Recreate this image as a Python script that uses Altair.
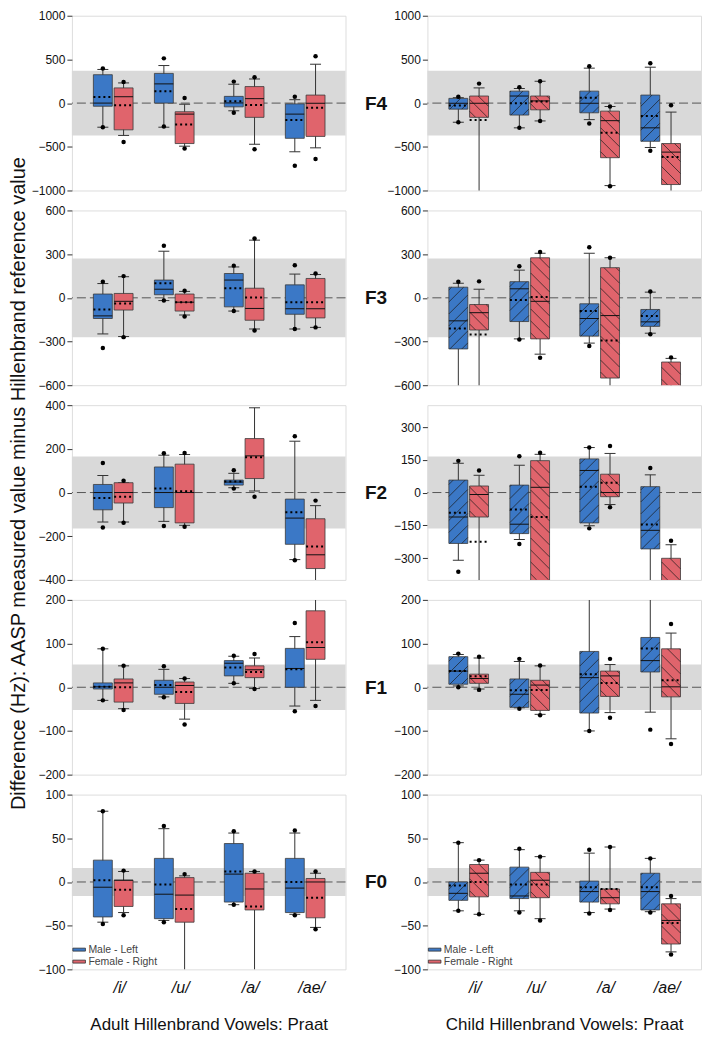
import altair as alt
import pandas as pd

VOWELS = ["/i/", "/u/", "/a/", "/ae/"]
VOWEL_POS = [1.0, 2.0, 3.146, 4.146]
SEXES = ["Male - Left", "Female - Right"]
COLORS = ["#3b78c6", "#e0646c"]

# each row: whisker_lo, q1, median, q3, whisker_hi, mean, p5_dot, p95_dot
# order: /i/ M, /i/ F, /u/ M, /u/ F, /a/ M, /a/ F, /ae/ M, /ae/ F
ADULT_F4 = [
    [-276, -36, 0, 325, 385, 69, -276, 396],
    [-370, -306, 73, 174, 231, -24, -445, 242],
    [-276, 0, 220, 340, 430, 137, -268, 512],
    [-493, -463, -126, -99, -13, -246, -520, 58],
    [-88, -43, 2, 77, 216, 21, -111, 246],
    [-471, -163, 51, 189, 276, -21, -527, 295],
    [-557, -403, -126, -9, 39, -193, -718, 73],
    [-512, -381, -2, 92, 445, -54, -640, 535],
]
CHILD_F4 = [
    [-219, -69, -2, 54, 62, -28, -219, 73],
    [-1100, -163, -2, 81, 174, -193, None, 223],
    [-283, -137, 81, 137, 167, -2, -283, 182],
    [-204, -77, 25, 81, 250, 17, -204, 250],
    [-189, -111, -2, 137, 400, 62, -234, 422],
    [-944, -625, -201, -92, -39, -340, -951, -39],
    [-508, -437, -283, 92, 411, -148, -546, 456],
    [-1100, -932, -561, -463, -103, -617, None, -24],
]
ADULT_F3 = [
    [-248, -142, -124, 26, 98, -80, -344, 111],
    [-266, -84, -24, 30, 145, -39, -270, 149],
    [-19, 21, 59, 122, 320, 100, -19, 358],
    [-118, -91, -30, 26, 44, -30, -129, 48],
    [-91, -62, 122, 167, 212, 66, -91, 221],
    [-214, -154, -73, 66, 396, 3, -225, 407],
    [-214, -113, -75, 89, 163, -30, -214, 224],
    [-203, -138, -75, 133, 160, -30, -203, 167],
]
CHILD_F3 = [
    [-700, -351, -158, 73, 100, -210, None, 111],
    [-700, -221, -102, -46, 59, -252, None, 113],
    [-282, -163, 62, 111, 190, -15, -286, 217],
    [-387, -282, -24, 275, 306, 6, -411, 315],
    [-311, -263, -142, -41, 306, -91, -331, 347],
    [-700, -551, -122, 207, 275, -293, None, 275],
    [-243, -196, -165, -80, 39, -124, -250, 44],
    [-700, -700, -640, -441, -416, -660, None, -409],
]
ADULT_F2 = [
    [-135, -79, 0, 37, 78, -25, -160, 135],
    [-135, -48, 0, 45, 45, -19, -138, 54],
    [-132, -69, 0, 117, 171, 18, -153, 180],
    [-150, -139, 0, 130, 174, 6, -157, 181],
    [22, 34, 48, 57, 88, 51, 18, 102],
    [7, 64, 168, 247, 388, 162, -19, None],
    [-307, -237, -117, -30, 235, -90, -310, 258],
    [-450, -348, -285, -120, -60, -247, None, -37],
]
CHILD_F2 = [
    [-310, -233, -112, 57, 134, -93, -363, 145],
    [-450, -112, -9, 30, 79, -225, None, 101],
    [-215, -188, -145, 34, 125, -78, -236, 166],
    [-450, -450, 24, 146, 175, -112, None, 182],
    [-152, -139, 101, 154, 206, 27, -164, 206],
    [-55, -19, 0, 84, 179, 45, -67, 213],
    [-450, -258, -173, 27, 81, -146, None, 112],
    [-450, -450, -430, -301, -239, -440, None, -221],
]
ADULT_F1 = [
    [-30, -4, 1, 10, 88, 1, -30, 88],
    [-49, -34, 10, 19, 49, 0, -52, 49],
    [-22, -16, 0, 16, 41, 5, -23, 48],
    [-73, -37, 4, 12, 20, -11, -85, 20],
    [9, 26, 55, 61, 71, 45, 9, 72],
    [-3, 22, 40, 49, 67, 35, -4, 76],
    [-43, 0, 43, 89, 116, 41, -55, 147],
    [-30, 64, 91, 175, 230, 103, -43, None],
]
CHILD_F1 = [
    [3, 7, 37, 70, 75, 37, 0, 77],
    [-4, 9, 20, 30, 67, 25, -6, 70],
    [-47, -46, -16, 19, 59, -7, -49, 65],
    [-62, -53, 5, 16, 49, -6, -64, 50],
    [-100, -59, 22, 82, 230, 30, -100, None],
    [-58, -21, 26, 37, 52, 10, -70, 65],
    [-57, 35, 61, 114, 230, 89, -97, None],
    [-118, -22, 1, 88, 124, 16, -130, 145],
]
ADULT_F0 = [
    [-46, -40, -6, 25, 81, 2, -48, 81],
    [-35, -28, 2, 2, 12, -9, -38, 13],
    [-44, -42, -14, 27, 61, -3, -46, 64],
    [-120, -46, -15, 5, 7, -31, None, 9],
    [-26, -23, 9, 44, 56, 12, -26, 58],
    [-120, -32, -8, 10, 12, -28, None, 12],
    [-37, -35, -7, 27, 56, 0, -38, 59],
    [-52, -41, 0, 4, 10, -18, -54, 12],
]
CHILD_F0 = [
    [-33, -21, -13, 0, 45, -4, -33, 45],
    [-37, -17, 10, 20, 25, 0, -37, 25],
    [-33, -19, -16, 17, 37, -3, -35, 38],
    [-42, -18, 2, 11, 29, -3, -44, 29],
    [-35, -23, -11, 1, 33, -6, -36, 37],
    [-31, -25, -18, -8, 40, -8, -32, 40],
    [-34, -32, -11, 10, 27, -6, -35, 27],
    [-80, -71, -44, -25, -19, -47, -83, -16],
]

ROW_LABELS = ["F4", "F3", "F2", "F1", "F0"]
Y_DOMAINS = [[-1000, 1000], [-600, 600], [-400, 400], [-200, 200], [-100, 100]]
ADULT_TICKS = [[-1000, -500, 0, 500, 1000], [-600, -300, 0, 300, 600],
               [-400, -200, 0, 200, 400], [-200, -100, 0, 100, 200], [-100, -50, 0, 50, 100]]
CHILD_TICKS = [[-1000, -500, 0, 500, 1000], [-600, -300, 0, 300, 600],
               [-300, -150, 0, 150, 300], [-200, -100, 0, 100, 200], [-100, -50, 0, 50, 100]]
BANDS = [370, 270, 165, 52, 16]

W = 274
H = 175
XDOM = [0.323, 4.807]
OFF = 0.17
BOXHALF = 0.155
CAPHALF = 0.09
FONT = "Liberation Sans"
YTITLE = "Difference (Hz):  AASP measured value minus Hillenbrand reference value"


def make_df(rows):
    recs = []
    for i, r in enumerate(rows):
        v, s = i // 2, i % 2
        pos = VOWEL_POS[v] + (-OFF if s == 0 else OFF)
        wlo, q1, med, q3, whi, mean, dlo, dhi = r
        recs.append(dict(vowel=VOWELS[v], sex=SEXES[s], pos=pos,
                         xl=pos - BOXHALF, xr=pos + BOXHALF,
                         cl=pos - CAPHALF, cr=pos + CAPHALF,
                         wlo=wlo, q1=q1, med=med, q3=q3, whi=whi, mean=mean,
                         dlo=float("nan") if dlo is None else dlo,
                         dhi=float("nan") if dhi is None else dhi))
    return pd.DataFrame(recs)


def make_hatch(df, ydom):
    kx = W / (XDOM[1] - XDOM[0])
    ky = H / (ydom[1] - ydom[0])
    s = 12.0
    segs = []
    for _, r in df.iterrows():
        lo = max(r.q1, ydom[0])
        hi = min(r.q3, ydom[1])
        if hi <= lo:
            continue
        w = (r.xr - r.xl) * kx
        h = (hi - lo) * ky
        male = r.sex == SEXES[0]
        if male:
            c = -w + s / 2
            while c < h:
                u1, u2 = max(0.0, -c), min(w, h - c)
                if u2 - u1 > 0.5:
                    segs.append((r.xl + u1 / kx, r.xl + u2 / kx,
                                 lo + (u1 + c) / ky, lo + (u2 + c) / ky))
                c += s
        else:
            c = s / 2
            while c < h + w:
                u1, u2 = max(0.0, c - h), min(w, c)
                if u2 - u1 > 0.5:
                    segs.append((r.xl + u1 / kx, r.xl + u2 / kx,
                                 lo + (c - u1) / ky, lo + (c - u2) / ky))
                c += s
    return pd.DataFrame(segs, columns=["hx1", "hx2", "hy1", "hy2"])


def panel(rows, ri, child):
    ydom = Y_DOMAINS[ri]
    ticks = CHILD_TICKS[ri] if child else ADULT_TICKS[ri]
    band = BANDS[ri]
    last = ri == 4
    df = make_df(rows)

    ysc = alt.Scale(domain=ydom, nice=False, zero=False)
    xsc = alt.Scale(domain=XDOM, nice=False, zero=False)

    axis_kw = dict(values=ticks, format="d", tickSize=5, tickColor="#333", labelFontSize=12,
                   labelColor="#111", labelPadding=2, domain=False, grid=False,
                   labelFont=FONT)
    if child:
        yaxis = alt.Axis(title=ROW_LABELS[ri], titleAngle=0, titleX=-52, titleY=H / 2,
                         titleAlign="center", titleBaseline="middle", titleFontSize=19,
                         titleFontWeight="bold", titleColor="#111", titleFont=FONT, **axis_kw)
    elif ri == 2:
        yaxis = alt.Axis(title=YTITLE, titleAngle=270, titleX=-47, titleY=78,
                         titleAlign="center", titleBaseline="alphabetic", titleFontSize=20,
                         titleFontWeight="normal", titleColor="#111", titleFont=FONT, **axis_kw)
    else:
        yaxis = alt.Axis(title=None, **axis_kw)

    if last:
        expr = " : ".join(
            f"datum.value < {p + 0.3} ? '{v}'" for p, v in zip(VOWEL_POS[:-1], VOWELS[:-1])
        ) + f" : '{VOWELS[-1]}'"
        xaxis = alt.Axis(values=VOWEL_POS, labelExpr=expr, ticks=False, domain=False,
                         grid=False, labelFontStyle="italic", labelFontSize=16,
                         labelColor="#111", labelPadding=10, labelOffset=6, labelFont=FONT,
                         title=("Child" if child else "Adult") + " Hillenbrand Vowels: Praat",
                         titleFontSize=17, titleFontWeight="normal", titleColor="#111",
                         titlePadding=21, titleFont=FONT)
    else:
        xaxis = None

    def X(f):
        return alt.X(f, type="quantitative", scale=xsc, axis=xaxis)

    def Y(f):
        return alt.Y(f, type="quantitative", scale=ysc, axis=yaxis)

    base = alt.Chart(df)
    band_l = alt.Chart(pd.DataFrame({"lo": [-band], "hi": [band]})).mark_rect(
        color="#d9d9d9").encode(y=Y("lo"), y2="hi", x=alt.value(0), x2=alt.value(W))
    zero_l = alt.Chart(pd.DataFrame({"z": [0]})).mark_rule(
        color="#555", strokeDash=[9, 4], strokeWidth=1).encode(y=Y("z"))
    whisk = base.mark_rule(color="#333", strokeWidth=1, clip=True).encode(
        x=X("pos"), y=Y("wlo"), y2="whi")
    cap_hi = base.mark_rule(color="#333", strokeWidth=1, clip=True).encode(
        x=X("cl"), x2="cr", y=Y("whi"))
    cap_lo = base.mark_rule(color="#333", strokeWidth=1, clip=True).encode(
        x=X("cl"), x2="cr", y=Y("wlo"))
    leg = None
    if last:
        leg = alt.Legend(orient="bottom-left", title=None, offset=2, padding=0,
                         symbolType="M-1.4,-0.33H1.4V0.33H-1.4Z", symbolSize=81,
                         symbolStrokeColor="#333", symbolStrokeWidth=0.8, symbolOpacity=1,
                         labelFontSize=10.5, labelColor="#444",
                         labelFont=FONT, rowPadding=1, labelOffset=4)
    box = base.mark_rect(stroke="#3a3a3a", strokeWidth=0.8, opacity=1, clip=True).encode(
        x=X("xl"), x2="xr", y=Y("q1"), y2="q3",
        fill=alt.Fill("sex:N", scale=alt.Scale(domain=SEXES, range=COLORS), legend=leg))
    layers = [band_l, zero_l, whisk, cap_hi, cap_lo, box]
    if child:
        hd = make_hatch(df, ydom)
        layers.append(alt.Chart(hd).mark_rule(color="#1a1a1a", strokeWidth=0.7, clip=True)
                      .encode(x=X("hx1"), x2="hx2", y=Y("hy1"), y2="hy2"))
    med = base.mark_rule(color="#111", strokeWidth=1, clip=True).encode(
        x=X("xl"), x2="xr", y=Y("med"))
    mean = base.mark_rule(color="#000", strokeWidth=2, strokeDash=[2, 3], clip=True).encode(
        x=X("xl"), x2="xr", y=Y("mean"))
    dot_hi = base.mark_circle(color="#000", size=20, opacity=1, clip=True).encode(
        x=X("pos"), y=Y("dhi"))
    dot_lo = base.mark_circle(color="#000", size=20, opacity=1, clip=True).encode(
        x=X("pos"), y=Y("dlo"))
    layers += [med, mean, dot_hi, dot_lo]
    return alt.layer(*layers).properties(width=W, height=H)


ADULT = [ADULT_F4, ADULT_F3, ADULT_F2, ADULT_F1, ADULT_F0]
CHILD = [CHILD_F4, CHILD_F3, CHILD_F2, CHILD_F1, CHILD_F0]


def indep(c):
    return c.resolve_scale(fill="independent").resolve_legend(fill="independent")


left_col = indep(alt.vconcat(*[panel(ADULT[i], i, False) for i in range(5)],
                             spacing=20, bounds="flush"))
right_col = indep(alt.vconcat(*[panel(CHILD[i], i, True) for i in range(5)],
                              spacing=20, bounds="flush"))
chart = indep(alt.hconcat(left_col, right_col, spacing=17)).properties(padding=0)

chart = chart.configure_view(stroke="#555", strokeWidth=1).configure(
    font=FONT, background="white")

chart.save("out.html", embed_options={"renderer": "svg", "actions": False})
